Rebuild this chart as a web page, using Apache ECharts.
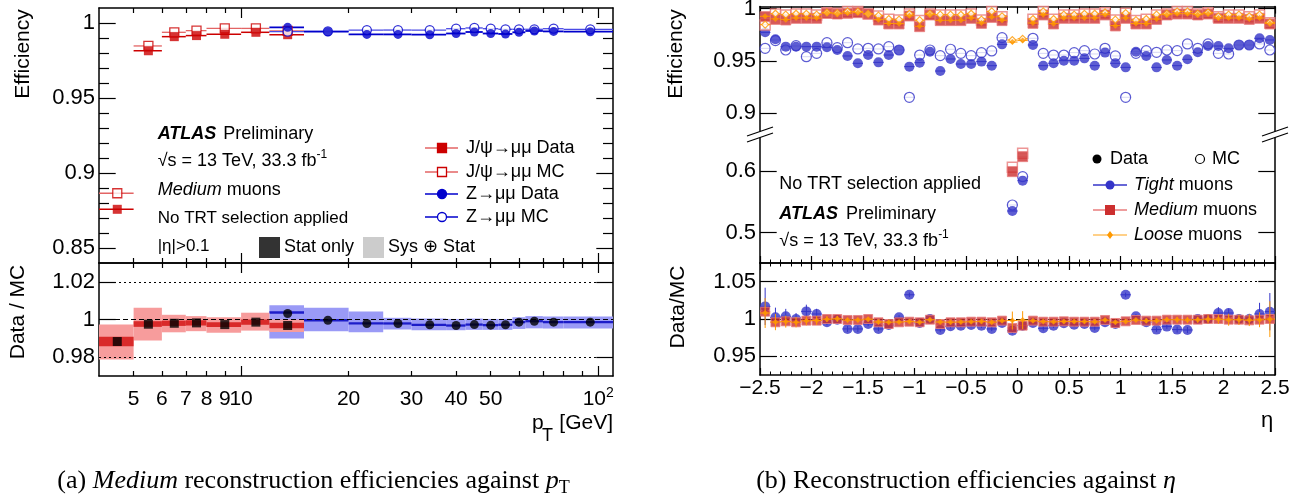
<!DOCTYPE html>
<html><head><meta charset="utf-8">
<script src="https://cdn.jsdelivr.net/npm/echarts@6/dist/echarts.min.js"></script>
<style>html,body{margin:0;padding:0;background:#fff}#c{width:1301px;height:496px}</style>
</head><body><div id="c"></div><script>
// ================= (a) Medium efficiencies vs pT =================
const jpsiPt    = [4.5, 5.5, 6.5, 7.5, 9, 11, 13.5];
const jpsiPtLo  = [4, 5, 6, 7, 8, 10, 12];
const jpsiPtHi  = [5, 6, 7, 8, 10, 12, 15];
const jpsiData  = [0.8758, 0.9815, 0.9909, 0.9916, 0.9925, 0.9938, 0.9922];
const jpsiMC    = [0.8865, 0.9847, 0.9938, 0.9949, 0.9964, 0.9964, 0.9947];
const jpsiRatio = [0.9883, 0.9975, 0.9980, 0.9982, 0.9973, 0.9986, 0.9968];
const jpsiStatLo = [0.9858, 0.9961, 0.9966, 0.9968, 0.9960, 0.9972, 0.9953];
const jpsiStatHi = [0.9909, 0.9991, 0.9994, 0.9996, 0.9986, 1.0000, 0.9983];
const jpsiSysLo  = [0.9787, 0.9888, 0.9932, 0.9938, 0.9929, 0.9941, 0.9934];
const jpsiSysHi  = [0.9973, 1.0062, 1.0025, 1.0018, 1.0012, 1.0036, 1.0000];

const zPt    = [13.5, 17.5, 22.5, 27.5, 33.75, 40, 45, 50, 55, 60, 66.25, 75, 95];
const zPtLo  = [12, 15, 20, 25, 30, 37.5, 42.5, 47.5, 52.5, 57.5, 62.5, 70, 80];
const zPtHi  = [15, 20, 25, 30, 37.5, 42.5, 47.5, 52.5, 57.5, 62.5, 70, 80, 110];
const zData  = [0.9971, 0.9942, 0.9924, 0.9924, 0.9922, 0.9930, 0.9940, 0.9930, 0.9927, 0.9938, 0.9947, 0.9944, 0.9942];
const zMC    = [0.9942, 0.9944, 0.9953, 0.9953, 0.9953, 0.9962, 0.9967, 0.9962, 0.9958, 0.9958, 0.9958, 0.9962, 0.9958];
const zRatio = [1.0032, 0.9996, 0.9979, 0.9979, 0.9972, 0.9968, 0.9973, 0.9970, 0.9972, 0.9986, 0.9991, 0.9986, 0.9986];
const zStatLo = [1.0030, 0.9990, 0.9973, 0.9973, 0.9966, 0.9962, 0.9967, 0.9964, 0.9966, 0.9980, 0.9985, 0.9980, 0.9980];
const zStatHi = [1.0044, 1.0002, 0.9985, 0.9985, 0.9978, 0.9974, 0.9979, 0.9976, 0.9978, 0.9992, 0.9997, 0.9992, 0.9992];
const zSysLo  = [0.9899, 0.9938, 0.9932, 0.9947, 0.9943, 0.9943, 0.9945, 0.9945, 0.9945, 0.9950, 0.9953, 0.9952, 0.9952];
const zSysHi  = [1.0076, 1.0062, 1.0043, 1.0009, 1.0005, 1.0003, 1.0005, 1.0003, 1.0003, 1.0012, 1.0018, 1.0016, 1.0016];

const ptLabelValues = [5, 6, 7, 8, 9, 10, 20, 30, 40, 50, 100];
const ptMajorTicks  = [10, 100];
const ptMinorTicks  = [5, 6, 7, 8, 9, 20, 30, 40, 50, 60, 70, 80, 90];
const effTicksA     = [0.85, 0.9, 0.95, 1.0];
const effMinorA     = [0.86, 0.87, 0.88, 0.89, 0.91, 0.92, 0.93, 0.94, 0.96, 0.97, 0.98, 0.99];
const ratioTicksA   = [0.98, 1.0, 1.02];

// ================= (b) efficiencies vs eta =================
const etaC = [-2.45,-2.35,-2.25,-2.15,-2.05,-1.95,-1.85,-1.75,-1.65,-1.55,-1.45,-1.35,-1.25,-1.15,-1.05,-0.95,-0.85,-0.75,-0.65,-0.55,-0.45,-0.35,-0.25,-0.15,-0.05,
              0.05,0.15,0.25,0.35,0.45,0.55,0.65,0.75,0.85,0.95,1.05,1.15,1.25,1.35,1.45,1.55,1.65,1.75,1.85,1.95,2.05,2.15,2.25,2.35,2.45];
const etaHalfBin = 0.05;
const tightData = [0.9774,0.9707,0.9637,0.9637,0.9637,0.9637,0.9631,0.9605,0.9548,0.9478,0.9557,0.9487,0.9557,0.9605,0.9446,0.9484,0.9589,0.9404,0.9519,0.9471,0.9471,0.9494,0.9455,0.9659,0.5352,
                   0.5843,0.9653,0.9455,0.9478,0.9503,0.9503,0.9525,0.9455,0.9580,0.9478,0.9439,0.9589,0.9548,0.9439,0.9510,0.9455,0.9516,0.9583,0.9643,0.9643,0.9621,0.9653,0.9653,0.9717,0.9701];
const tightMC   = [0.9621,0.9695,0.9605,0.9647,0.9541,0.9573,0.9675,0.9627,0.9675,0.9615,0.9621,0.9615,0.9637,0.9605,0.9153,0.9557,0.9605,0.9551,0.9612,0.9573,0.9551,0.9580,0.9596,0.9723,0.5449,
                   0.5908,0.9717,0.9573,0.9557,0.9557,0.9580,0.9599,0.9567,0.9621,0.9548,0.9153,0.9573,0.9599,0.9583,0.9605,0.9599,0.9663,0.9621,0.9663,0.9573,0.9567,0.9653,0.9653,0.9663,0.9605];
const mediumData = [0.9924,0.9898,0.9892,0.9908,0.9908,0.9908,0.9956,0.9949,0.9956,0.9962,0.9949,0.9892,0.9854,0.9854,0.9930,0.9828,0.9940,0.9886,0.9886,0.9886,0.9908,0.9860,0.9917,0.9886,0.5989,
                    0.6232,0.9860,0.9940,0.9854,0.9908,0.9908,0.9908,0.9908,0.9940,0.9835,0.9908,0.9854,0.9854,0.9898,0.9940,0.9949,0.9949,0.9940,0.9949,0.9908,0.9908,0.9908,0.9898,0.9908,0.9854];
const mediumMC   = [0.9844,0.9949,0.9940,0.9949,0.9949,0.9940,0.9962,0.9956,0.9972,0.9972,0.9949,0.9930,0.9898,0.9892,0.9949,0.9886,0.9949,0.9940,0.9940,0.9940,0.9949,0.9892,0.9972,0.9924,0.6060,
                    0.6287,0.9898,0.9972,0.9898,0.9940,0.9940,0.9949,0.9949,0.9962,0.9892,0.9956,0.9886,0.9898,0.9940,0.9949,0.9972,0.9972,0.9949,0.9962,0.9924,0.9940,0.9940,0.9924,0.9940,0.9866];
const looseData  = [0.9927,0.9902,0.9895,0.9911,0.9912,0.9910,0.9958,0.9951,0.9958,0.9964,0.9951,0.9895,0.9858,0.9857,0.9933,0.9832,0.9943,0.9889,0.9889,0.9890,0.9911,0.9864,0.9920,0.9890,0.9681,
                    0.9697,0.9863,0.9943,0.9857,0.9911,0.9911,0.9911,0.9912,0.9943,0.9838,0.9911,0.9858,0.9857,0.9901,0.9943,0.9952,0.9952,0.9943,0.9951,0.9911,0.9911,0.9911,0.9901,0.9911,0.9858];
const looseMC    = [0.9848,0.9952,0.9943,0.9952,0.9951,0.9943,0.9964,0.9958,0.9974,0.9973,0.9951,0.9933,0.9901,0.9895,0.9951,0.9890,0.9952,0.9943,0.9943,0.9942,0.9952,0.9895,0.9974,0.9927,0.9700,
                    0.9712,0.9901,0.9974,0.9901,0.9943,0.9943,0.9951,0.9952,0.9964,0.9895,0.9958,0.9890,0.9901,0.9943,0.9952,0.9974,0.9974,0.9952,0.9964,0.9927,0.9943,0.9943,0.9927,0.9943,0.9869];
const tightRatio = [1.0169,1.0022,1.0036,1.0000,1.0102,1.0067,0.9956,0.9991,0.9867,0.9867,0.9933,0.9867,0.9920,1.0022,1.0324,0.9947,1.0000,0.9853,0.9902,0.9911,0.9920,0.9911,0.9867,0.9947,0.9844,
                    0.9911,0.9947,0.9876,0.9911,0.9942,0.9924,0.9933,0.9880,0.9956,0.9933,1.0324,1.0036,0.9956,0.9858,0.9898,0.9858,0.9853,1.0000,1.0000,1.0080,1.0080,1.0000,1.0000,1.0067,1.0098];
const tightRatioErr = [0.025,0.013,0.010,0.008,0.009,0.007,0.004,0.004,0.004,0.004,0.003,0.003,0.003,0.003,0.003,0.003,0.003,0.003,0.003,0.003,0.003,0.003,0.003,0.003,0.004,
                       0.004,0.003,0.003,0.003,0.003,0.003,0.003,0.003,0.003,0.003,0.003,0.003,0.003,0.003,0.003,0.004,0.004,0.004,0.005,0.008,0.006,0.006,0.007,0.015,0.025];
const mediumRatio = [1.0098,0.9956,0.9969,0.9956,0.9978,0.9978,1.0000,1.0000,0.9987,0.9987,1.0000,0.9956,0.9933,0.9956,0.9964,0.9956,0.9991,0.9933,0.9956,0.9956,0.9964,0.9964,0.9956,0.9978,0.9880,
                     0.9911,0.9978,0.9964,0.9964,0.9969,0.9964,0.9964,0.9964,0.9987,0.9947,0.9969,0.9987,0.9978,0.9978,0.9991,0.9991,0.9991,0.9991,1.0000,1.0000,0.9991,0.9991,0.9982,0.9991,1.0000];
const mediumRatioErr = [0.006,0.004,0.003,0.003,0.003,0.003,0.002,0.002,0.002,0.002,0.002,0.002,0.002,0.002,0.002,0.002,0.002,0.002,0.002,0.002,0.002,0.002,0.002,0.002,0.004,
                        0.004,0.002,0.002,0.002,0.002,0.002,0.002,0.002,0.002,0.002,0.002,0.002,0.002,0.002,0.002,0.002,0.002,0.002,0.003,0.003,0.003,0.003,0.003,0.004,0.006];
const looseRatio = [1.0080,0.9960,0.9965,0.9958,0.9975,0.9980,0.9998,1.0002,0.9985,0.9988,0.9998,0.9960,0.9958,0.9960,0.9965,0.9958,0.9990,0.9960,0.9958,0.9960,0.9962,0.9965,0.9958,0.9975,0.9980,
                    0.9985,0.9975,0.9965,0.9962,0.9968,0.9965,0.9965,0.9962,0.9985,0.9958,0.9968,0.9985,0.9978,0.9975,0.9990,0.9990,0.9988,0.9990,0.9998,0.9995,0.9990,0.9990,0.9985,0.9990,0.9998];
const looseRatioErr = [0.020,0.011,0.008,0.007,0.006,0.006,0.004,0.004,0.003,0.003,0.003,0.003,0.002,0.002,0.002,0.002,0.002,0.002,0.002,0.002,0.002,0.002,0.002,0.002,0.012,
                       0.012,0.002,0.002,0.002,0.002,0.002,0.002,0.002,0.002,0.002,0.002,0.002,0.003,0.003,0.003,0.004,0.004,0.004,0.006,0.006,0.008,0.007,0.008,0.010,0.024];
const effTicksBUpper = [0.9, 0.95, 1.0];
const effTicksBLower = [0.5, 0.6];
const ratioTicksB    = [0.95, 1.0, 1.05];

// ================= rendering =================
const FONT = "'Liberation Sans', Arial, Helvetica, sans-serif";
const SERIF = "'Liberation Serif', 'Times New Roman', serif";
const lg = v => Math.log10(v);
const chart = echarts.init(document.getElementById('c'), null, {renderer: 'canvas'});

const grids = [
  {left: 99,  top: 8,    width: 514, height: 255},
  {left: 99,  top: 263,  width: 514, height: 113},
  {left: 760, top: 6.6,  width: 515, height: 127.6},
  {left: 760, top: 137,  width: 515, height: 126},
  {left: 760, top: 263,  width: 515, height: 112}
].map(g => Object.assign(g, {containLabel: false, outerBoundsMode: 'none', show: false}));

const xAxes = [], yAxes = [];
const pushX = a => (xAxes.push(a), xAxes.length - 1);
const pushY = a => (yAxes.push(a), yAxes.length - 1);
function ax(grid, pos, min, max, ticks, len, line, label) {
  return {type: 'value', gridIndex: grid, position: pos, min, max,
    axisLine: {show: line, onZero: false, lineStyle: {color: '#000', width: 1.5}},
    axisTick: ticks ? {show: true, inside: true, length: len, customValues: ticks, lineStyle: {color: '#000', width: 1.2}} : {show: false},
    minorTick: {show: false}, splitLine: {show: false}, minorSplitLine: {show: false},
    axisLabel: label || {show: false}};
}
function etaAx(grid, pos, line, label) {
  return {type: 'value', gridIndex: grid, position: pos, min: -2.5, max: 2.5, interval: 0.5,
    axisLine: {show: line, onZero: false, lineStyle: {color: '#000', width: 1.5}},
    axisTick: {show: true, inside: true, length: 7, lineStyle: {color: '#000', width: 1.2}},
    minorTick: {show: true, splitNumber: 5, length: 3.5, lineStyle: {color: '#000', width: 1}},
    splitLine: {show: false}, minorSplitLine: {show: false},
    axisLabel: label || {show: false}};
}
const numFmt = v => String(Math.round(v * 100) / 100);
const yLab = (vals) => ({show: true, customValues: vals, formatter: numFmt, margin: 4, fontFamily: FONT, fontSize: 22, color: '#000'});

// --- (a) axes
const xMinA = lg(4), xMaxA = lg(110);
const ptMaj = ptMajorTicks.map(lg), ptMin = ptMinorTicks.map(lg);
const XA0 = pushX(ax(0, 'bottom', xMinA, xMaxA, ptMaj, 10, true));
pushX(ax(0, 'bottom', xMinA, xMaxA, ptMin, 5, false));
pushX(ax(0, 'top', xMinA, xMaxA, ptMaj, 10, true));
pushX(ax(0, 'top', xMinA, xMaxA, ptMin, 5, false));
const XA1 = pushX(ax(1, 'bottom', xMinA, xMaxA, ptMaj, 10, true, {
  show: true, customValues: ptLabelValues.map(lg), margin: 10, color: '#000',
  formatter: v => { const p = Math.round(Math.pow(10, v)); return p === 100 ? '{m|10}{s|2}' : '{m|' + p + '}'; },
  rich: {m: {fontFamily: FONT, fontSize: 21, color: '#000', lineHeight: 26},
         s: {fontFamily: FONT, fontSize: 14, color: '#000', lineHeight: 12, verticalAlign: 'top'}}
}));
pushX(ax(1, 'bottom', xMinA, xMaxA, ptMin, 5, false));
pushX(ax(1, 'top', xMinA, xMaxA, ptMaj, 10, true));
pushX(ax(1, 'top', xMinA, xMaxA, ptMin, 5, false));

const YA0 = pushY(ax(0, 'left', 0.84, 1.01, effTicksA, 16.7, true, yLab(effTicksA)));
pushY(ax(0, 'left', 0.84, 1.01, effMinorA, 10, false));
pushY(ax(0, 'right', 0.84, 1.01, effTicksA, 16.7, true));
pushY(ax(0, 'right', 0.84, 1.01, effMinorA, 10, false));
const YA1 = pushY(ax(1, 'left', 0.97, 1.03, ratioTicksA, 16.7, true, yLab(ratioTicksA)));
pushY(ax(1, 'right', 0.97, 1.03, ratioTicksA, 16.7, true));

// --- (b) axes
const XB2 = pushX(etaAx(2, 'top', true));
const XB3 = pushX(etaAx(3, 'bottom', true));
const XB4 = pushX(etaAx(4, 'bottom', true, {show: true, margin: 3, fontFamily: FONT, fontSize: 21, color: '#000',
  formatter: v => v < 0 ? '\u2212' + String(-v) : String(v)}));
pushX(etaAx(4, 'top', true));
const YB2 = pushY(ax(2, 'left', 0.88, 1.002, effTicksBUpper, 16.7, true, yLab(effTicksBUpper)));
pushY(ax(2, 'right', 0.88, 1.002, effTicksBUpper, 16.7, true));
const YB3 = pushY(ax(3, 'left', 0.451, 0.655, effTicksBLower, 16.7, true, yLab(effTicksBLower)));
pushY(ax(3, 'right', 0.451, 0.655, effTicksBLower, 16.7, true));
const YB4 = pushY(ax(4, 'left', 0.925, 1.075, ratioTicksB, 16.7, true, yLab(ratioTicksB)));
pushY(ax(4, 'right', 0.925, 1.075, ratioTicksB, 16.7, true));

// --- series helpers
const series = [];
function errbars(xi, yi, rows, color, lw, z) {
  series.push({type: 'custom', xAxisIndex: xi, yAxisIndex: yi, z, silent: true, data: rows,
    encode: {x: [0, 2, 3], y: [1, 4, 5]},
    renderItem(p, api) {
      const xc = api.value(0), y = api.value(1);
      const a = api.coord([api.value(2), y]), b = api.coord([api.value(3), y]);
      const c = api.coord([xc, api.value(4)]), d = api.coord([xc, api.value(5)]);
      return {type: 'group', children: [
        {type: 'line', shape: {x1: a[0], y1: a[1], x2: b[0], y2: b[1]}, style: {stroke: color, lineWidth: lw}},
        {type: 'line', shape: {x1: c[0], y1: c[1], x2: d[0], y2: d[1]}, style: {stroke: color, lineWidth: lw}}]};
    }});
}
function bands(xi, yi, rows, color, z, minH) {
  series.push({type: 'custom', xAxisIndex: xi, yAxisIndex: yi, z, silent: true, data: rows,
    encode: {x: [0, 1], y: [2, 3]},
    renderItem(p, api) {
      const a = api.coord([api.value(0), api.value(3)]), b = api.coord([api.value(1), api.value(2)]);
      let h = b[1] - a[1], y = a[1];
      if (h < minH) { y -= (minH - h) / 2; h = minH; }
      return {type: 'rect', shape: {x: a[0], y, width: b[0] - a[0], height: h}, style: {fill: color}};
    }});
}
function pts(xi, yi, data, symbol, size, itemStyle, z, extra) {
  series.push(Object.assign({type: 'scatter', xAxisIndex: xi, yAxisIndex: yi, symbol, symbolSize: size,
    itemStyle, z, data, silent: true, animation: false}, extra || {}));
}

// --- (a) top
const C_JR = '#cc0000', C_JRL = '#e36464', C_ZB = '#0000cc', C_ZBL = '#4a4ae6';
errbars(XA0, YA0, jpsiPt.map((p, i) => [lg(p), jpsiMC[i], lg(jpsiPtLo[i]), lg(jpsiPtHi[i]), jpsiMC[i], jpsiMC[i]]), C_JRL, 1.3, 2);
errbars(XA0, YA0, jpsiPt.map((p, i) => [lg(p), jpsiData[i], lg(jpsiPtLo[i]), lg(jpsiPtHi[i]), jpsiData[i], jpsiData[i]]), C_JR, 1.5, 2);
errbars(XA0, YA0, zPt.map((p, i) => [lg(p), zMC[i], lg(zPtLo[i]), lg(zPtHi[i]), zMC[i], zMC[i]]), C_ZBL, 1.3, 3);
errbars(XA0, YA0, zPt.map((p, i) => [lg(p), zData[i], lg(zPtLo[i]), lg(zPtHi[i]), zData[i], zData[i]]), C_ZB, 1.8, 3);
pts(XA0, YA0, jpsiPt.map((p, i) => [lg(p), jpsiMC[i]]), 'rect', 9, {color: '#fff', borderColor: C_JR, borderWidth: 1.3}, 4);
pts(XA0, YA0, jpsiPt.map((p, i) => [lg(p), jpsiData[i]]), 'rect', 9, {color: C_JR}, 5);
pts(XA0, YA0, zPt.map((p, i) => [lg(p), zMC[i]]), 'circle', 9, {color: '#fff', borderColor: C_ZB, borderWidth: 1.3}, 6);
pts(XA0, YA0, zPt.map((p, i) => [lg(p), zData[i]]), 'circle', 9, {color: C_ZB}, 7);

// --- (a) ratio
bands(XA1, YA1, zPt.map((p, i) => [lg(zPtLo[i]), lg(zPtHi[i]), zSysLo[i], zSysHi[i]]), '#9a9af6', 2, 0);
bands(XA1, YA1, zPt.map((p, i) => [lg(zPtLo[i]), lg(zPtHi[i]), zStatLo[i], zStatHi[i]]), '#1c1cc8', 3, 2);
bands(XA1, YA1, jpsiPt.map((p, i) => [lg(jpsiPtLo[i]), lg(jpsiPtHi[i]), jpsiSysLo[i], jpsiSysHi[i]]), '#f79c9c', 4, 0);
bands(XA1, YA1, jpsiPt.map((p, i) => [lg(jpsiPtLo[i]), lg(jpsiPtHi[i]), jpsiStatLo[i], jpsiStatHi[i]]), '#d92a2a', 5, 2);
pts(XA1, YA1, zPt.map((p, i) => [lg(p), zRatio[i]]), 'circle', 9, {color: '#000'}, 8, {
  markLine: {silent: true, symbol: 'none', label: {show: false}, animation: false,
    data: [{yAxis: 1.02, lineStyle: {type: [2, 3], color: '#000', width: 1}},
           {yAxis: 0.98, lineStyle: {type: [2, 3], color: '#000', width: 1}},
           {yAxis: 1.0, lineStyle: {type: [5, 3], color: '#000', width: 1}}]}});
pts(XA1, YA1, jpsiPt.map((p, i) => [lg(p), jpsiRatio[i]]), 'rect', 9, {color: '#000'}, 9);

// --- (b) top (upper & lower broken parts)
const C_T = '#3434c8', C_M = '#cc2f2f', C_MP = '#e87c7c', C_L = '#ff9900';
function inRange(arr, lo, hi) { return etaC.map((e, i) => i).filter(i => arr[i] >= lo && arr[i] <= hi); }
function drawEff(xi, yi, lo, hi) {
  const rowsH = arr => inRange(arr, lo, hi).map(i => [etaC[i], arr[i], etaC[i] - etaHalfBin, etaC[i] + etaHalfBin, arr[i], arr[i]]);
  const P = arr => inRange(arr, lo, hi).map(i => [etaC[i], arr[i]]);
  errbars(xi, yi, rowsH(tightMC), C_T, 1, 2);
  errbars(xi, yi, rowsH(tightData), C_T, 1, 2);
  pts(xi, yi, P(tightMC), 'circle', 10, {color: '#fff', borderColor: C_T, borderWidth: 1.2}, 3);
  pts(xi, yi, P(tightData), 'circle', 10, {color: C_T}, 4);
  errbars(xi, yi, rowsH(mediumMC), C_MP, 1, 5);
  errbars(xi, yi, rowsH(mediumData), C_M, 1, 5);
  pts(xi, yi, P(mediumMC), 'rect', 10, {color: '#fff', borderColor: C_MP, borderWidth: 1.5}, 6);
  pts(xi, yi, P(mediumData), 'rect', 10, {color: C_M, borderColor: C_MP, borderWidth: 1}, 7);
  errbars(xi, yi, rowsH(looseMC), C_L, 1, 8);
  errbars(xi, yi, rowsH(looseData), C_L, 1, 8);
  pts(xi, yi, P(looseMC), 'diamond', 7, {color: '#fff', borderColor: C_L, borderWidth: 1.2}, 9);
  pts(xi, yi, P(looseData), 'diamond', 6, {color: C_L}, 10);
}
drawEff(XB2, YB2, 0.88, 1.002);
drawEff(XB3, YB3, 0.451, 0.655);

// --- (b) ratio
const rowsR = (r, e) => etaC.map((x, i) => [x, r[i], x - etaHalfBin, x + etaHalfBin, r[i] - e[i], r[i] + e[i]]);
errbars(XB4, YB4, rowsR(tightRatio, tightRatioErr), C_T, 1, 2);
pts(XB4, YB4, etaC.map((x, i) => [x, tightRatio[i]]), 'circle', 10, {color: C_T}, 3, {
  markLine: {silent: true, symbol: 'none', label: {show: false}, animation: false,
    data: [{yAxis: 1.05, lineStyle: {type: [2, 3], color: '#000', width: 1}},
           {yAxis: 0.95, lineStyle: {type: [2, 3], color: '#000', width: 1}},
           {yAxis: 1.0, lineStyle: {type: [5, 3], color: '#000', width: 1}}]}});
errbars(XB4, YB4, rowsR(mediumRatio, mediumRatioErr), C_MP, 1, 4);
pts(XB4, YB4, etaC.map((x, i) => [x, mediumRatio[i]]), 'rect', 9, {color: C_M, borderColor: C_MP, borderWidth: 1}, 5);
errbars(XB4, YB4, rowsR(looseRatio, looseRatioErr), C_L, 1, 6);
pts(XB4, YB4, etaC.map((x, i) => [x, looseRatio[i]]), 'diamond', 6, {color: C_L}, 7);

// --- text & decorations
const G = [];
function T(x, y, text, size, o) {
  o = o || {};
  const style = {text, fill: '#000', font: (o.italic ? 'italic ' : '') + (o.bold ? 'bold ' : '') + size + 'px ' + (o.family || FONT),
    align: o.align || 'left', verticalAlign: 'middle', textAlign: o.align || 'left', textVerticalAlign: 'middle'};
  if (o.rich) style.rich = o.rich;
  G.push({type: 'text', x, y, rotation: o.rot || 0, z: 100, style});
}
const R = (size, extra) => Object.assign({fontFamily: FONT, fontSize: size, color: '#000'}, extra || {});
// axis titles
T(23, 54, 'Efficiency', 21, {align: 'center', rot: Math.PI / 2});
T(18, 312, 'Data / MC', 21, {align: 'center', rot: Math.PI / 2});
T(676, 54, 'Efficiency', 21, {align: 'center', rot: Math.PI / 2});
T(678, 307, 'Data/MC', 21, {align: 'center', rot: Math.PI / 2});
T(532, 423, 'p', 21);
T(542, 436.5, 'T', 18);
T(613, 423, '[GeV]', 21, {align: 'right'});
T(1267, 421, '\u03b7', 22, {align: 'center'});
// (a) labels
T(157.7, 134, 'ATLAS', 18, {bold: true, italic: true});
T(223.3, 134, 'Preliminary', 18);
T(157.7, 161, '{n|\u221as = 13 TeV, 33.3 fb}{s|-1}', 18, {rich: {n: R(18, {lineHeight: 24}), s: R(12, {lineHeight: 10, verticalAlign: 'top'})}});
T(157.7, 190, '{i|Medium} muons', 18, {rich: {i: R(18, {fontStyle: 'italic'})}});
T(157.7, 218, 'No TRT selection applied', 17);
T(157.7, 246, '|\u03b7|>0.1', 17);
G.push({type: 'rect', shape: {x: 259, y: 237, width: 21, height: 21}, style: {fill: '#333'}, z: 100});
T(284, 247, 'Stat only', 18);
G.push({type: 'rect', shape: {x: 363, y: 237, width: 21, height: 21}, style: {fill: '#ccc'}, z: 100});
T(388, 247, 'Sys \u2295 Stat', 18);
// (a) legend
const legA = [
  {y: 148, txt: 'J/\u03c8\u2192\u03bc\u03bc Data', line: C_JRL, sym: 'sq', fill: C_JR, stroke: C_JR},
  {y: 172, txt: 'J/\u03c8\u2192\u03bc\u03bc MC', line: C_JRL, sym: 'sq', fill: '#fff', stroke: C_JR},
  {y: 194, txt: 'Z\u2192\u03bc\u03bc Data', line: C_ZB, sym: 'ci', fill: C_ZB, stroke: C_ZB},
  {y: 217, txt: 'Z\u2192\u03bc\u03bc MC', line: C_ZB, sym: 'ci', fill: '#fff', stroke: C_ZB}];
legA.forEach(l => {
  G.push({type: 'line', shape: {x1: 425, y1: l.y, x2: 458, y2: l.y}, style: {stroke: l.line, lineWidth: 1.3}, z: 100});
  if (l.sym === 'sq') G.push({type: 'rect', shape: {x: 437.5, y: l.y - 4.5, width: 9, height: 9}, style: {fill: l.fill, stroke: l.stroke, lineWidth: 1.3}, z: 101});
  else G.push({type: 'circle', shape: {cx: 442, cy: l.y, r: 4.5}, style: {fill: l.fill, stroke: l.stroke, lineWidth: 1.3}, z: 101});
  T(466, l.y, l.txt, 18);
});
// (b) labels
T(779.3, 184, 'No TRT selection applied', 18);
T(779.3, 214, 'ATLAS', 18, {bold: true, italic: true});
T(846, 214, 'Preliminary', 18);
T(779.3, 241, '{n|\u221as = 13 TeV, 33.3 fb}{s|-1}', 18, {rich: {n: R(18, {lineHeight: 24}), s: R(12, {lineHeight: 10, verticalAlign: 'top'})}});
G.push({type: 'circle', shape: {cx: 1097, cy: 159, r: 4.5}, style: {fill: '#000'}, z: 101});
T(1110, 159, 'Data', 18);
G.push({type: 'circle', shape: {cx: 1200, cy: 159, r: 4.5}, style: {fill: '#fff', stroke: '#000', lineWidth: 1.2}, z: 101});
T(1212, 159, 'MC', 18);
const legB = [
  {y: 185, name: 'Tight', line: C_T, sym: 'ci', fill: C_T},
  {y: 210, name: 'Medium', line: C_MP, sym: 'sq', fill: C_M},
  {y: 235, name: 'Loose', line: '#ffc060', sym: 'di', fill: C_L}];
legB.forEach(l => {
  G.push({type: 'line', shape: {x1: 1093, y1: l.y, x2: 1127, y2: l.y}, style: {stroke: l.line, lineWidth: 1.5}, z: 100});
  if (l.sym === 'ci') G.push({type: 'circle', shape: {cx: 1110, cy: l.y, r: 4.5}, style: {fill: l.fill}, z: 101});
  else if (l.sym === 'sq') G.push({type: 'rect', shape: {x: 1105, y: l.y - 5, width: 10, height: 10}, style: {fill: l.fill}, z: 101});
  else G.push({type: 'polygon', shape: {points: [[1110, l.y - 4], [1113, l.y], [1110, l.y + 4], [1107, l.y]]}, style: {fill: l.fill}, z: 101});
  T(1134, l.y, '{i|' + l.name + '} muons', 18, {rich: {i: R(18, {fontStyle: 'italic'})}});
});
// axis break marks
[[747, 773], [1262, 1288]].forEach(([a, b]) => {
  G.push({type: 'polygon', shape: {points: [[a, 136], [b, 127], [b, 133], [a, 142]]}, style: {fill: '#fff'}, z: 110});
  G.push({type: 'line', shape: {x1: a, y1: 136, x2: b, y2: 127}, style: {stroke: '#000', lineWidth: 1.2}, z: 111});
  G.push({type: 'line', shape: {x1: a, y1: 142, x2: b, y2: 133}, style: {stroke: '#000', lineWidth: 1.2}, z: 111});
});
// captions
T(313.5, 481, '(a) {i|Medium} reconstruction efficiencies against {i|p}{s|T}', 26, {family: SERIF, align: 'center',
  rich: {i: {fontFamily: SERIF, fontSize: 26, fontStyle: 'italic', color: '#000', lineHeight: 32}, s: {fontFamily: SERIF, fontSize: 18, color: '#000', lineHeight: 22, verticalAlign: 'bottom'}}});
T(966, 481, '(b) Reconstruction efficiencies against {i|\u03b7}', 26, {family: SERIF, align: 'center',
  rich: {i: {fontFamily: SERIF, fontSize: 26, fontStyle: 'italic', color: '#000', lineHeight: 32}}});

chart.setOption({
  animation: false,
  backgroundColor: '#fff',
  grid: grids, xAxis: xAxes, yAxis: yAxes, series,
  graphic: {elements: G}
});
</script></body></html>
